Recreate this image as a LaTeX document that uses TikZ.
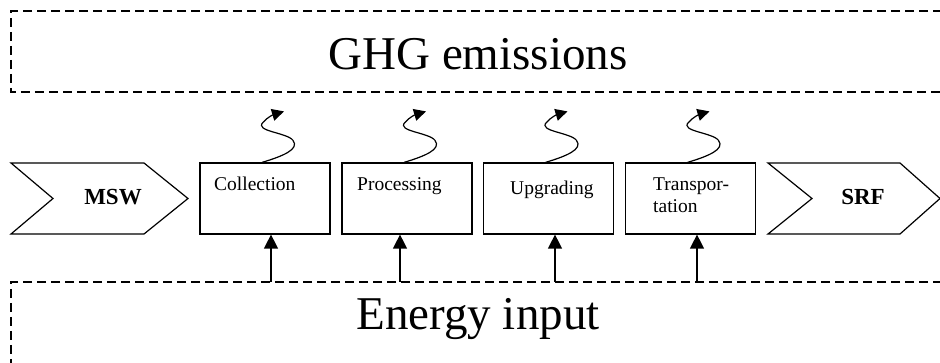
\documentclass[tikz,border=0pt]{standalone}
\usepackage{fontspec}
\setmainfont{Liberation Serif}
\usetikzlibrary{arrows.meta,calc}
\begin{document}
\begin{tikzpicture}[x=1pt,y=-1pt,
  dashbox/.style={line width=1.8pt,dash pattern=on 9pt off 5pt},
  procbox/.style={draw,line width=1.2pt,minimum width=130pt,minimum height=71pt,inner sep=0pt},
  chev/.style={draw,line width=1.2pt,line join=miter},
  big/.style={font=\fontsize{47}{50}\selectfont,inner sep=0pt},
  lab/.style={font=\fontsize{19.5}{22}\selectfont,inner sep=0pt,anchor=base west},
  bold/.style={font=\fontsize{23}{26}\selectfont\bfseries,inner sep=0pt,anchor=base},
  uparrow/.style={line width=1.2pt,-{Triangle[length=14pt,width=14pt]}},
  squig/.style={line width=1.2pt,-{Triangle[length=12pt,width=12pt]}}]
\useasboundingbox (0,0) rectangle (940,363);
% GHG emissions box
\draw[dashbox] (942,11) -- (11,11) -- (11,92) -- (942,92);
\node[big,anchor=base] (ghg) at (478,70) {GHG emissions};
% Energy input box
\draw[dashbox] (942,282) -- (11,282) -- (11,365);
\node[big,anchor=base] (energy) at (478,330) {Energy input};
% chevrons
\draw[chev] (11,163) -- (144,163) -- (188,198.5) -- (144,234) -- (11,234) -- (53,198.5) -- cycle;
\node[bold] (msw) at (113,205) {MSW};
\draw[chev] (768,163) -- (900,163) -- (940,198.5) -- (900,234) -- (768,234) -- (812,198.5) -- cycle;
\node[bold] (srf) at (863,205) {SRF};
% process boxes
\node[procbox] (col) at (265,198.5) {};
\node[procbox] (pro) at (407,198.5) {};
\node[procbox] (upg) at (548.5,198.5) {};
\node[procbox] (tra) at (690.5,198.5) {};
\node[lab] (colt) at (214,191) {Collection};
\node[lab] (prot) at (357,191) {Processing};
\node[lab] (upgt) at (510,195) {Upgrading};
\node[lab] (trat) at (653,191) {Transpor-};
\node[lab] (trat2) at (653,213) {tation};
% energy inputs
\coordinate (e1) at (271,282);
\coordinate (e2) at (400,282);
\coordinate (e3) at (555,282);
\coordinate (e4) at (697,282);
\draw[uparrow] (e1) -- (e1 |- col.south);
\draw[uparrow] (e2) -- (e2 |- pro.south);
\draw[uparrow] (e3) -- (e3 |- upg.south);
\draw[uparrow] (e4) -- (e4 |- tra.south);
% emissions squiggles
\foreach \b in {col,pro,upg,tra}{
  \begin{scope}[shift={($(\b.north)+(-3,0)$)}]
    \coordinate (\b s) at (0,0);
    \coordinate (\b g) at (22,-51);
    \draw[squig] (\b s) .. controls (20,-6) and (38,-13) .. (31,-22)
      .. controls (25,-30) and (-8,-31) .. (1,-40)
      .. controls (5,-45) and (12,-48) .. (\b g);
  \end{scope}
}
\end{tikzpicture}
\end{document}
